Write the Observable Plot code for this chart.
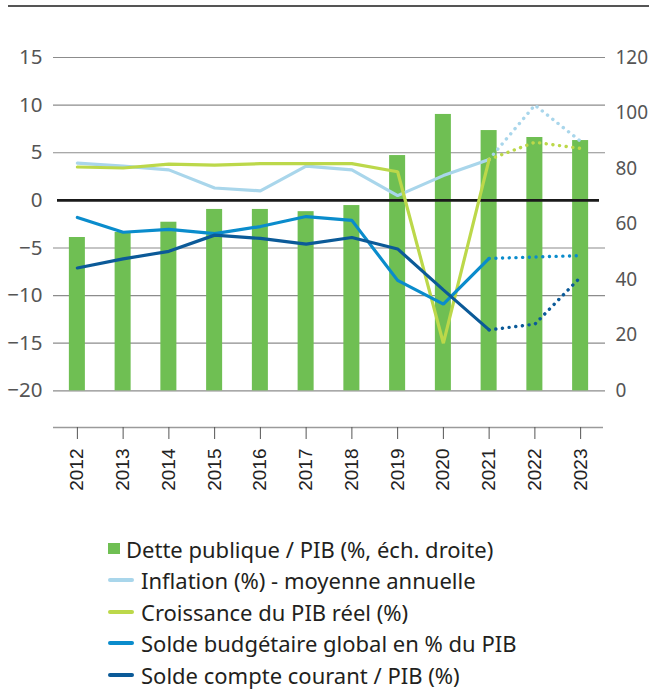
<!DOCTYPE html>
<html>
<head>
<meta charset="utf-8">
<script src="https://cdn.jsdelivr.net/npm/d3@7"></script>
<script src="https://cdn.jsdelivr.net/npm/@observablehq/plot@0.6"></script>
<style>
  body { margin: 0; background: #fff; width: 649px; height: 689px; overflow: hidden; position: relative; }
  #topline { position: absolute; left: 8px; top: 5px; width: 641px; height: 2px; background: #555; }
  #legend { font-family: "Noto Sans", sans-serif; font-size: 22px; color: #231f20; margin-top: 23px; }
  .row { height: 31.5px; display: flex; align-items: center; padding-left: 108px; white-space: nowrap; }
  .sq { width: 12px; height: 11px; margin-right: 6px; }
  .ln { width: 26px; height: 4px; border-radius: 2px; margin-right: 7px; }
</style>
</head>
<body>
<div id="topline"></div>
<div id="chart"></div>
<div id="legend"></div>
<script>
const years = ["2012","2013","2014","2015","2016","2017","2018","2019","2020","2021","2022","2023"];
const dette = [55.2, 57.0, 60.7, 65.3, 65.3, 64.5, 66.7, 84.7, 99.5, 93.7, 91.2, 90.1];
const inflation = [3.9, 3.6, 3.2, 1.3, 1.0, 3.6, 3.2, 0.5, 2.6, 4.3, 10.0, 6.2];
const croissance = [3.5, 3.4, 3.8, 3.7, 3.85, 3.85, 3.85, 3.0, -15.0, 4.3, 6.1, 5.45];
const soldeBudget = [-1.8, -3.35, -3.05, -3.5, -2.75, -1.7, -2.1, -8.4, -10.9, -6.1, -5.95, -5.8];
const soldeCourant = [-7.1, -6.15, -5.35, -3.65, -4.0, -4.6, -3.9, -5.1, -9.4, -13.6, -13.0, -8.05];
const leftTicks = [-20, -15, -10, -5, 0, 5, 10, 15];
const rightTicks = [0, 20, 40, 60, 80, 100, 120];
const lastActual = "2021";

const series = [
  {name: "Inflation (%) - moyenne annuelle", values: inflation, color: "#a9d6eb"},
  {name: "Croissance du PIB réel (%)", values: croissance, color: "#bcd84a"},
  {name: "Solde budgétaire global en % du PIB", values: soldeBudget, color: "#0a8ccc"},
  {name: "Solde compte courant / PIB (%)", values: soldeCourant, color: "#0b5a98"}
];
const barName = "Dette publique / PIB (%, éch. droite)";
const barColor = "#6fbf53";

// right axis (0..120) mapped onto left axis (-20..15)
const toLeft = v => v * 35 / 120 - 20;
const toRight = v => Math.round((v + 20) * 120 / 35);

const bars = years.map((y, i) => ({year: y, v: toLeft(dette[i])}));
const idx = years.indexOf(lastActual);

const lineMarks = [];
for (const s of series) {
  const pts = years.map((y, i) => ({year: y, v: s.values[i]}));
  lineMarks.push(Plot.lineY(pts.slice(0, idx + 1), {x: "year", y: "v", stroke: s.color, strokeWidth: 3.2, strokeLinejoin: "miter"}));
  lineMarks.push(Plot.lineY(pts.slice(idx), {x: "year", y: "v", stroke: s.color, strokeWidth: 3.4, strokeDasharray: "0.1 6.6", strokeLinecap: "round"}));
}

const yMin = -23.85;
const chart = Plot.plot({
  width: 649,
  height: 510,
  marginTop: 57,
  marginBottom: 83,
  marginLeft: 54,
  marginRight: 46,
  style: {fontFamily: "Noto Sans, sans-serif", background: "white"},
  x: {domain: years, paddingInner: 0.65, paddingOuter: 0.325, round: false},
  y: {domain: [yMin, 15]},
  marks: [
    Plot.ruleY(leftTicks.filter(d => d !== 0), {stroke: "#8c8c8c", strokeWidth: 1.2, insetLeft: -1, insetRight: -2}),
    Plot.barY(bars, {x: "year", y1: -20, y2: "v", fill: barColor}),
    Plot.ruleY([0], {stroke: "#1a1a1a", strokeWidth: 2.6, insetLeft: 3, insetRight: 4}),
    Plot.ruleY([yMin], {stroke: "#9a9a9a", strokeWidth: 1.5, insetLeft: -1}),
    ...lineMarks,
    Plot.axisY(leftTicks, {anchor: "left", tickSize: 0, tickPadding: 12, fontSize: 20.5, fill: "#555", label: null}),
    Plot.axisY(rightTicks.map(toLeft), {anchor: "right", tickSize: 0, tickPadding: 12, fontSize: 19, fill: "#555", tickFormat: toRight, label: null}),
    Plot.axisX({tickRotate: -90, tickSize: 12, tickPadding: 9, fontSize: 19, fontFamily: "Liberation Sans, Arial, sans-serif", fill: "#222", stroke: "#555", label: null})
  ]
});
document.getElementById("chart").appendChild(chart);

const legend = document.getElementById("legend");
const r0 = document.createElement("div");
r0.className = "row";
r0.innerHTML = `<span class="sq" style="background:${barColor}"></span><span>${barName}</span>`;
legend.appendChild(r0);
for (const s of series) {
  const r = document.createElement("div");
  r.className = "row";
  r.innerHTML = `<span class="ln" style="background:${s.color}"></span><span>${s.name}</span>`;
  legend.appendChild(r);
}
</script>
</body>
</html>
